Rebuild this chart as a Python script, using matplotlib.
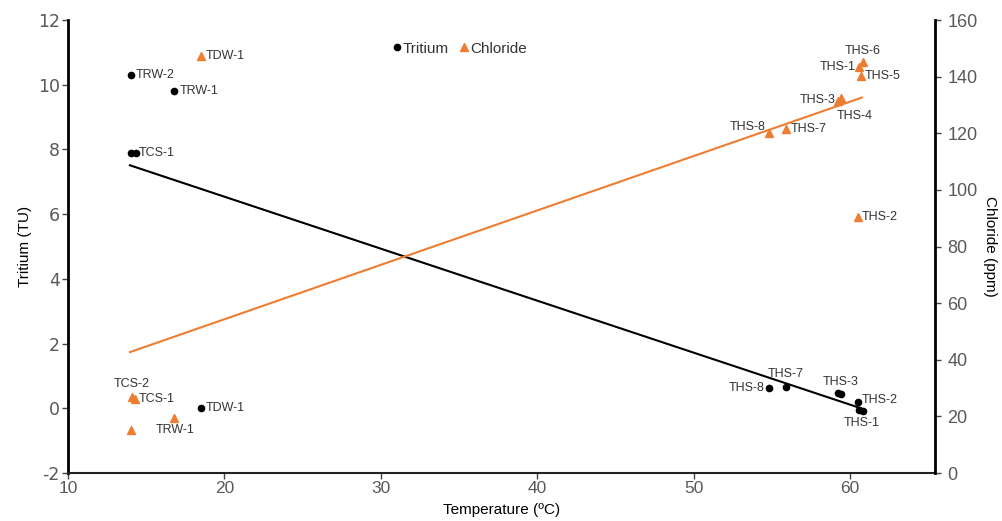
import matplotlib
matplotlib.use("Agg")
import matplotlib.pyplot as plt
import matplotlib.lines as mlines

plt.rcParams["axes.unicode_minus"] = False

# ---------------- data ----------------
tri_names = ["TRW-2", "TRW-1", "", "TCS-1", "TDW-1", "THS-8", "THS-7", "", "THS-3", "THS-2", "", "THS-1"]
tri_temp = [14.0, 16.8, 14.05, 14.35, 18.5, 54.8, 55.9, 59.2, 59.4, 60.5, 60.6, 60.85]
tri_val = [10.3, 9.8, 7.9, 7.9, 0.0, 0.63, 0.65, 0.46, 0.44, 0.18, -0.06, -0.07]

cl_names = ["TDW-1", "THS-6", "THS-1", "THS-5", "THS-3", "THS-4", "THS-8", "THS-7",
            "THS-2", "TCS-2", "TCS-1", "TRW-1", ""]
cl_temp = [18.5, 60.8, 60.6, 60.7, 59.4, 59.25, 54.8, 55.9, 60.5, 14.1, 14.3, 16.8, 14.0]
cl_val = [147.3, 145.3, 143.3, 140.3, 132.4, 131.4, 120.2, 121.5, 90.5, 27.0, 26.1, 19.3, 15.2]

tri_trend_x = [13.96, 60.7]
tri_trend_y = [7.51, 0.0]
cl_trend_x = [13.96, 60.75]
cl_trend_y = [42.7, 132.6]

x_ticks = [10, 20, 30, 40, 50, 60]
y_left_ticks = [-2, 0, 2, 4, 6, 8, 10, 12]
y_right_ticks = [0, 20, 40, 60, 80, 100, 120, 140, 160]

# ---------------- label placement (pixel offsets) ----------------
tri_lab = {
    "TRW-2": (5, 0, "left", "center"),
    "TRW-1": (5, 0, "left", "center"),
    "TCS-1": (3, 0, "left", "center"),
    "TDW-1": (5, 0, "left", "center"),
    "THS-8": (-4, 0, "right", "center"),
    "THS-7": (0, 13, "center", "center"),
    "THS-3": (0, 12, "center", "center"),
    "THS-2": (4, 2, "left", "center"),
    "THS-1": (-2, -12, "center", "center"),
}
cl_lab = {
    "TDW-1": (5, 0, "left", "center"),
    "THS-6": (0, 11, "center", "center"),
    "THS-1": (-4, 0, "right", "center"),
    "THS-5": (4, 0, "left", "center"),
    "THS-3": (-5, -2, "right", "center"),
    "THS-4": (-2, -15, "left", "center"),
    "THS-8": (-3, 6, "right", "center"),
    "THS-7": (5, 0, "left", "center"),
    "THS-2": (4, 0, "left", "center"),
    "TCS-2": (0, 13, "center", "center"),
    "TCS-1": (3, 0, "left", "center"),
    "TRW-1": (1, -12, "center", "center"),
}

NARROW = ["Liberation Sans", "DejaVu Sans"]
ORANGE = "#ED7D31"
LABC = "#333333"
TICKC = "#595959"

fig = plt.figure(figsize=(10.02, 5.21), dpi=100)
ax = fig.add_axes([68 / 1002, 1 - 473 / 521, (935 - 68) / 1002, (473 - 20) / 521])
ax2 = ax.twinx()

ax.set_xlim(10, 65.43)
ax.set_ylim(-2, 12)
ax2.set_ylim(0, 160)

# trend lines
ax.plot(tri_trend_x, tri_trend_y, color="black", lw=1.5, zorder=2)
ax2.plot(cl_trend_x, cl_trend_y, color=ORANGE, lw=1.5, zorder=2)

# points
ax.plot(tri_temp, tri_val, "o", color="black", ms=4.5, zorder=3)
ax2.plot(cl_temp, cl_val, "^", color=ORANGE, ms=5.5, zorder=3)

for n, x, y in zip(tri_names, tri_temp, tri_val):
    if n and n in tri_lab:
        dx, dy, ha, va = tri_lab[n]
        ax.annotate(n, (x, y), xytext=(dx, dy), textcoords="offset pixels",
                    ha=ha, va=va, fontsize=9, color=LABC, family=NARROW)
for n, x, y in zip(cl_names, cl_temp, cl_val):
    if n and n in cl_lab:
        dx, dy, ha, va = cl_lab[n]
        ax2.annotate(n, (x, y), xytext=(dx, dy), textcoords="offset pixels",
                     ha=ha, va=va, fontsize=9, color=LABC, family=NARROW)

# spines
for a in (ax, ax2):
    a.spines["top"].set_visible(False)
ax.spines["left"].set_linewidth(2)
ax.spines["left"].set_color("black")
ax.spines["bottom"].set_linewidth(1.5)
ax.spines["bottom"].set_color("#222222")
ax2.spines["right"].set_linewidth(2)
ax2.spines["right"].set_color("black")
ax2.spines["left"].set_visible(False)
ax2.spines["bottom"].set_visible(False)

ax.set_xticks(x_ticks)
ax.set_yticks(y_left_ticks)
ax2.set_yticks(y_right_ticks)
ax.tick_params(axis="x", length=4, width=1, color="#444444", labelsize=12.5, labelcolor=TICKC, pad=2)
ax.tick_params(axis="y", length=4, width=1, color="#444444", labelsize=12.5, labelcolor=TICKC, pad=2)
ax2.tick_params(axis="y", length=4, width=1, color="#444444", labelsize=13, labelcolor=TICKC, pad=5)
for lab in ax.get_xticklabels() + ax2.get_yticklabels():
    lab.set_family(NARROW)

ax.set_xlabel("Temperature (ºC)", fontsize=11, family=NARROW, labelpad=5)
ax.set_ylabel("Tritium (TU)", fontsize=11, family=NARROW, labelpad=4)
ax2.set_ylabel("Chloride (ppm)", fontsize=11, family=NARROW, rotation=270,
               ha="center", va="center")
ax2.yaxis.set_label_coords((990 - 68) / 867, 0.5)

# legend
h1 = mlines.Line2D([], [], color="black", marker="o", ls="none", ms=4.5)
h2 = mlines.Line2D([], [], color=ORANGE, marker="^", ls="none", ms=5.5)
leg = ax.legend([h1, h2], ["Tritium", "Chloride"], loc="center", bbox_to_anchor=(0.452, 0.937),
                ncol=2, frameon=False, handlelength=0.5, handletextpad=0.15, columnspacing=0.7,
                prop={"family": NARROW, "size": 11})
for t in leg.get_texts():
    t.set_color(LABC)

fig.savefig("out.png", dpi=100)
